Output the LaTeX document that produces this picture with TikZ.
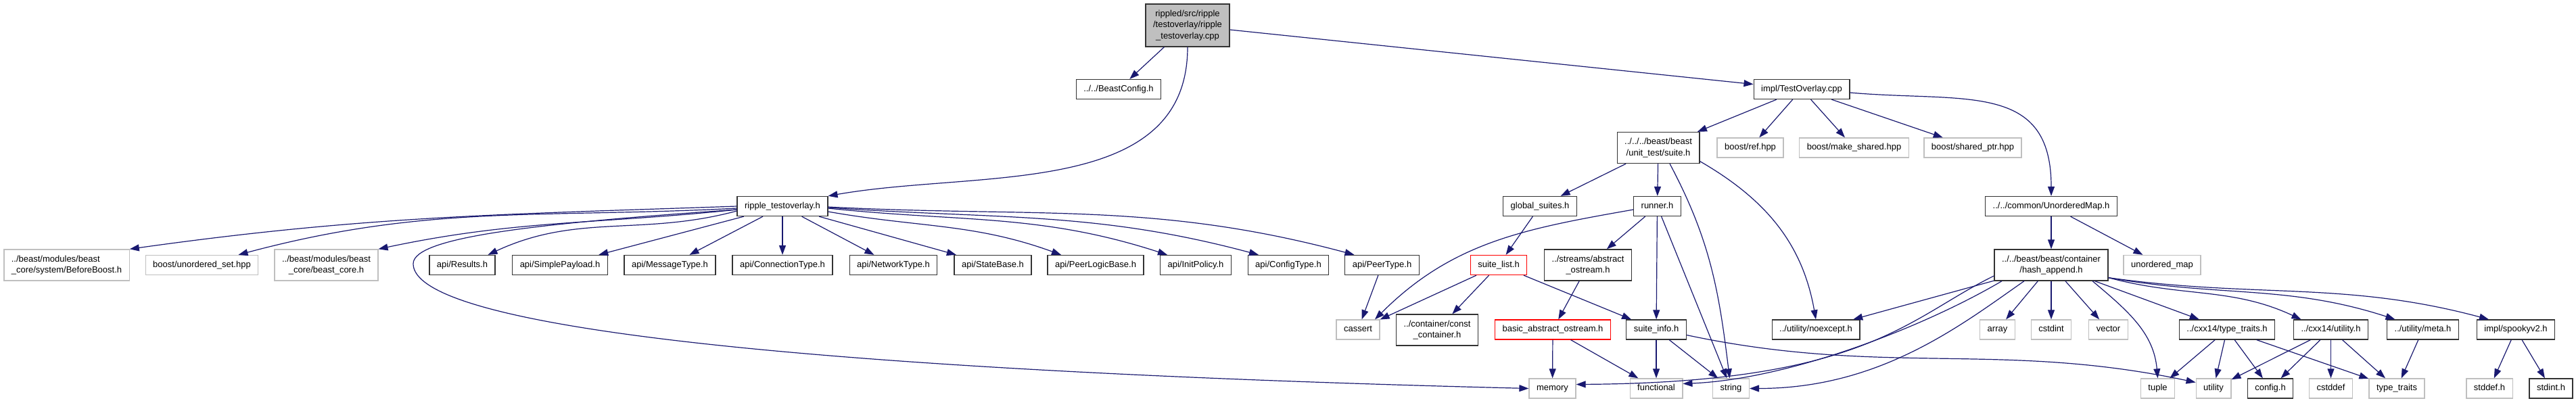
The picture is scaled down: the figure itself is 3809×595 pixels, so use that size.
\documentclass[tikz,border=0pt]{standalone}
\usepackage{fontspec}
\setmainfont{Liberation Sans}
\usetikzlibrary{arrows.meta}
\definecolor{edgeblue}{HTML}{191970}
\definecolor{grey75}{HTML}{BFBFBF}

\begin{document}
\begin{tikzpicture}[x=1pt, y=1pt,
  box/.style={draw=black!80, line width=1.3pt, fill=white, inner xsep=11pt, inner ysep=0pt,
    minimum height=29pt, text height=9.4pt, text depth=2.8pt,
    font=\fontsize{13}{16.7}\selectfont},
  sys/.style={box, draw=grey75},
  trunc/.style={box, draw=red},
  multi/.style={align=center, text height={}, text depth={}, minimum height=#1},
  dep/.style={draw=edgeblue, line width=1.2pt, -{Triangle[length=14pt, width=10pt]}}]
  % Canvas (3809 x 595, y downwards as negative)
  \fill[white] (0,0) rectangle (3809,-595);
  % Row 0: the file itself
  \node[box, fill=grey75, multi=63] (root) at (1756,-37.5) {rippled/src/ripple\\/testoverlay/ripple\\\_testoverlay.cpp};
  % Row 1
  \node[box] (beastcfg) at (1654,-132) {../../BeastConfig.h};
  \node[box] (testov) at (2664,-132) {impl/TestOverlay.cpp};
  % Row 2
  \node[box, multi=46] (suite) at (2452,-218.5) {../../../beast/beast\\/unit\_test/suite.h};
  \node[sys] (bref) at (2588,-218.5) {boost/ref.hpp};
  \node[sys] (bmake) at (2741.5,-218.5) {boost/make\_shared.hpp};
  \node[sys] (bshared) at (2917,-218.5) {boost/shared\_ptr.hpp};
  % Row 3
  \node[box] (rto) at (1157,-305) {ripple\_testoverlay.h};
  \node[box] (gsuites) at (2277,-305) {global\_suites.h};
  \node[box] (runner) at (2450.5,-305) {runner.h};
  \node[box] (umap) at (3033,-305) {../../common/UnorderedMap.h};
  % Row 4
  \node[sys, multi=46, align=left] (beforeboost) at (98.5,-392) {../beast/modules/beast\\\_core/system/BeforeBoost.h};
  \node[sys] (uset) at (298.5,-392) {boost/unordered\_set.hpp};
  \node[sys, multi=46] (beastcore) at (482.5,-392) {../beast/modules/beast\\\_core/beast\_core.h};
  \foreach \n/\x/\t in {results/683.5/Results, payload/828/SimplePayload, msgtype/990.5/MessageType,
      conntype/1157/ConnectionType, nettype/1321/NetworkType, statebase/1468/StateBase,
      peerlogic/1620/PeerLogicBase, initpolicy/1768/InitPolicy, cfgtype/1905/ConfigType,
      peertype/2043.5/PeerType}
    \node[box] (\n) at (\x,-392) {api/\t.h};
  \node[trunc] (suitelist) at (2216,-392) {suite\_list.h};
  \node[box, multi=46] (abstream) at (2348,-392) {../streams/abstract\\\_ostream.h};
  \node[box, multi=46] (hashapp) at (3033,-392) {../../beast/beast/container\\/hash\_append.h};
  \node[sys] (umapstd) at (3197,-392) {unordered\_map};
  % Row 5
  \node[sys] (cassert) at (2008,-487.5) {cassert};
  \node[box, multi=46] (constcont) at (2125,-488) {../container/const\\\_container.h};
  \node[trunc] (basicab) at (2296,-487.5) {basic\_abstract\_ostream.h};
  \node[box] (suiteinfo) at (2449,-487.5) {suite\_info.h};
  \node[box] (noexcept) at (2685,-487.5) {../utility/noexcept.h};
  \node[sys] (array) at (2953.5,-487.5) {array};
  \node[sys] (cstdint) at (3033,-487.5) {cstdint};
  \node[sys] (vector) at (3117.5,-487.5) {vector};
  \node[box] (cxxtt) at (3293,-487.5) {../cxx14/type\_traits.h};
  \node[box] (cxxutil) at (3446.5,-487.5) {../cxx14/utility.h};
  \node[box] (meta) at (3582.5,-487.5) {../utility/meta.h};
  \node[box] (spooky) at (3720,-487.5) {impl/spookyv2.h};
  % Row 6: system headers
  \foreach \n/\x/\t in {memory/2295.5/memory, functional/2449/functional, string/2559.5/string,
      tuple/3190.5/tuple, utility/3273/utility, cstddef/3446.5/cstddef,
      typetraits/3544/type\_traits, stddef/3681/stddef.h}
    \node[sys] (\n) at (\x,-574.5) {\t};
  \node[box] (config) at (3357,-574.5) {config.h};
  \node[box] (stdint) at (3772,-574.5) {stdint.h};

  % Includes of the .cpp file
  \draw[dep] (root) -- (beastcfg);
  \draw[dep] (root) -- (testov);
  \draw[dep] (root.south) to[out=-90, in=10] (rto.north east);
  % impl/TestOverlay.cpp
  \foreach \n in {suite, bref, bmake, bshared}
    \draw[dep] (testov) -- (\n);
  \draw[dep] ([yshift=-5]testov.east) to[out=-5, in=90, looseness=1.3] (umap.north);
  % ripple_testoverlay.h
  \draw[dep] (rto.west) to[out=182, in=8] (beforeboost.north east);
  \draw[dep] ([yshift=-3]rto.west) to[out=183, in=15] ([xshift=54]uset.north);
  \draw[dep] ([yshift=-5]rto.west) to[out=186, in=12] (beastcore.north east);
  \draw[dep] ([yshift=-7]rto.west) to[out=195, in=25] ([xshift=38]results.north);
  \foreach \n in {payload, msgtype, conntype, nettype, statebase}
    \draw[dep] (rto) -- (\n);
  \draw[dep] ([yshift=-8]rto.east) to[out=-10, in=160] ([xshift=-51]peerlogic.north);
  \draw[dep] ([yshift=-3]rto.east) to[out=-6, in=162] ([xshift=-42]initpolicy.north);
  \draw[dep] ([yshift=-2]rto.east) to[out=-4, in=165] ([xshift=-44]cfgtype.north);
  \draw[dep] ([yshift=-1]rto.east) to[out=-3, in=165] ([xshift=-41]peertype.north);
  \coordinate (memloop) at (611,-390);
  \draw[dep] ([yshift=-5]rto.west) .. controls +(-290,-20) and +(0,40) .. (memloop)
    .. controls +(0,-130) and +(-561,14) .. (memory.west);
  \draw[dep] (peertype) -- (cassert);
  % unit_test/suite.h
  \draw[dep] (suite) -- (gsuites);
  \draw[dep] (suite) -- (runner);
  \draw[dep] ([xshift=17]suite.south) to[out=-62, in=97] ([xshift=-2]string.north);
  \draw[dep] ([yshift=-20]suite.east) to[out=-30, in=100] (noexcept.north);
  \draw[dep] (gsuites) -- (suitelist);
  % runner.h
  \draw[dep] ([yshift=-5]runner.west) to[out=190, in=45] ([xshift=25]cassert.north);
  \foreach \n in {abstream, suiteinfo, string}
    \draw[dep] (runner) -- (\n);
  % suite_list.h and streams
  \foreach \n in {cassert, constcont, suiteinfo}
    \draw[dep] (suitelist) -- (\n);
  \draw[dep] (abstream) -- (basicab);
  \draw[dep] (basicab) -- (memory);
  \draw[dep] (basicab) -- (functional);
  \draw[dep] (suiteinfo) -- (functional);
  \draw[dep] (suiteinfo) -- (string);
  \draw[dep] ([yshift=-8]suiteinfo.east) to[out=-12, in=168] ([yshift=9]utility.west);
  % UnorderedMap.h and hash_append.h
  \draw[dep] (umap) -- (hashapp);
  \draw[dep] (umap) -- (umapstd);
  \foreach \n in {noexcept, array, cstdint, vector, cxxtt}
    \draw[dep] (hashapp) -- (\n);
  \draw[dep] ([yshift=-16]hashapp.west) .. controls +(-127,-62) and +(430,3) .. ([yshift=6]memory.east);
  \draw[dep] ([xshift=-73]hashapp.south) .. controls +(-110,-65) and +(162,7) .. ([yshift=7]functional.east);
  \draw[dep] ([xshift=-40]hashapp.south) .. controls +(-93,-65) and +(193,0) .. (string.east);
  \draw[dep] ([xshift=61]hashapp.south) to[out=-40, in=95] (tuple.north);
  \draw[dep] ([yshift=5]hashapp.south east) to[out=-15, in=155] ([xshift=-44]cxxutil.north);
  \draw[dep] ([yshift=5]hashapp.south east) to[out=-10, in=162] ([xshift=-41]meta.north);
  \draw[dep] ([yshift=5]hashapp.south east) to[out=-8, in=165] ([xshift=-40]spooky.north);
  % cxx14 and spooky headers
  \foreach \n in {tuple, utility, config, typetraits}
    \draw[dep] (cxxtt) -- (\n);
  \foreach \n in {utility, config, cstddef, typetraits}
    \draw[dep] (cxxutil) -- (\n);
  \draw[dep] (meta) -- (typetraits);
  \draw[dep] (spooky) -- (stddef);
  \draw[dep] (spooky) -- (stdint);
\end{tikzpicture}
\end{document}
